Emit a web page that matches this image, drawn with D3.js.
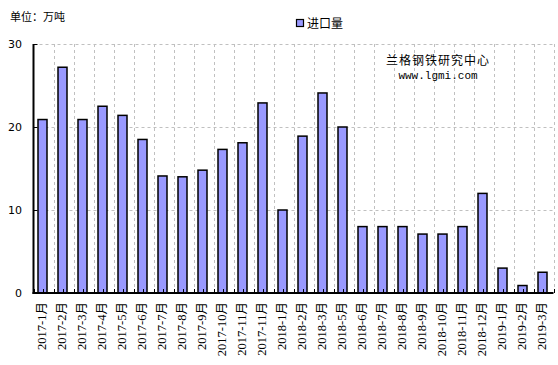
<!DOCTYPE html>
<html>
<head>
<meta charset="utf-8">
<script src="https://cdn.jsdelivr.net/npm/d3@7"></script>
<style>
html,body{margin:0;padding:0;background:#fff;}
svg{display:block;}
</style>
</head>
<body>
<script>
const categories = ["2017-1月","2017-2月","2017-3月","2017-4月","2017-5月","2017-6月","2017-7月","2017-8月","2017-9月","2017-10月","2017-11月","2017-11月",
"2018-1月","2018-2月","2018-3月","2018-5月","2018-6月","2018-7月","2018-8月","2018-9月","2018-10月","2018-11月","2018-12月",
"2019-1月","2019-2月","2019-3月"];
const importValues = [20.9,27.2,20.9,22.5,21.4,18.5,14.1,14.0,14.8,17.3,18.1,22.9,10.0,18.9,24.1,20.0,8.0,8.0,8.0,7.1,7.1,8.0,12.0,3.0,0.9,2.5];
const yTicks = [0,10,20,30];
const seriesName = "进口量";
const unitLabel = "单位：万吨";
const watermark1 = "兰格钢铁研究中心";
const watermark2 = "www.lgmi.com";

const W = 558, H = 365;
const pLeft = 33.5, pRight = 553.5, pTop = 44, pBottom = 293;
const svg = d3.select("body").append("svg").attr("width", W).attr("height", H);

const x = d3.scaleBand().domain(d3.range(categories.length)).range([pLeft, pRight]).padding(0);
const y = d3.scaleLinear().domain([0, 30]).range([pBottom, pTop]);
const bw = x.bandwidth();

const grid = svg.append("g").attr("stroke", "#c0c0c0").attr("stroke-width", 1).attr("stroke-dasharray", "3,3");
yTicks.filter(d => d > 0).forEach(t => {
  grid.append("line").attr("x1", pLeft).attr("x2", pRight).attr("y1", Math.round(y(t)) + 0.5).attr("y2", Math.round(y(t)) + 0.5);
});
d3.range(1, categories.length + 1).forEach(i => {
  const gx = Math.round(pLeft + i * bw) + 0.5;
  grid.append("line").attr("x1", gx).attr("x2", gx).attr("y1", pTop).attr("y2", pBottom);
});

svg.append("g").selectAll("rect").data(importValues).join("rect")
  .attr("x", (d, i) => x(i) + 4.5)
  .attr("width", 9)
  .attr("y", d => y(d))
  .attr("height", d => pBottom - y(d))
  .attr("fill", "#9999ff")
  .attr("stroke", "#000")
  .attr("stroke-width", 1.5);

const axes = svg.append("g").attr("stroke", "#000");
axes.append("line").attr("x1", pLeft).attr("x2", pLeft).attr("y1", pTop).attr("y2", pBottom + 1).attr("stroke-width", 2);
axes.append("line").attr("x1", pLeft - 1).attr("x2", pRight).attr("y1", pBottom).attr("y2", pBottom).attr("stroke-width", 2);
d3.range(0, categories.length * 2 + 1).forEach(k => {
  const tx = Math.round(pLeft + k * bw / 2) + 0.5 - (k % 2 ? 1 : 0);
  axes.append("line").attr("x1", tx).attr("x2", tx).attr("y1", pBottom).attr("y2", pBottom - 4).attr("stroke-width", 1);
});
yTicks.forEach(t => {
  const ty = Math.round(y(t)) + 0.5;
  axes.append("line").attr("x1", pLeft).attr("x2", pLeft + 4).attr("y1", ty).attr("y2", ty).attr("stroke-width", 1);
});

svg.append("g").selectAll("text").data(yTicks).join("text")
  .attr("x", 22).attr("y", d => y(d)).attr("dy", "0.35em")
  .attr("text-anchor", "end")
  .attr("font-family", "'DejaVu Sans', sans-serif").attr("font-size", 11)
  .attr("fill", "#000")
  .text(d => d);

svg.append("g").selectAll("text").data(categories).join("text")
  .attr("transform", (d, i) => `translate(${x(i) + bw / 2 - 1.5},${pBottom + 9}) rotate(-90)`)
  .attr("text-anchor", "end").attr("dy", "0.35em")
  .attr("font-family", "'Liberation Serif', 'Noto Sans CJK SC', serif").attr("font-size", 12.5)
  .attr("fill", "#000")
  .text(d => d);

svg.append("text").attr("x", 10).attr("y", 21)
  .attr("font-family", "'Noto Sans CJK SC', sans-serif").attr("font-size", 11)
  .attr("fill", "#000").text(unitLabel);

svg.append("rect").attr("x", 296.5).attr("y", 19.5).attr("width", 7).attr("height", 7)
  .attr("fill", "#9999ff").attr("stroke", "#000").attr("stroke-width", 1.2);
svg.append("text").attr("x", 307).attr("y", 28)
  .attr("font-family", "'Noto Sans CJK SC', sans-serif").attr("font-size", 12)
  .attr("fill", "#000").text(seriesName);

svg.append("text").attr("x", 438).attr("y", 65).attr("text-anchor", "middle")
  .attr("font-family", "'Noto Sans CJK SC', sans-serif").attr("font-size", 12).attr("letter-spacing", 1)
  .attr("fill", "#000").text(watermark1);
svg.append("text").attr("x", 438).attr("y", 79).attr("text-anchor", "middle")
  .attr("font-family", "'Liberation Mono', monospace").attr("font-size", 11)
  .attr("fill", "#000").text(watermark2);
</script>
</body>
</html>
